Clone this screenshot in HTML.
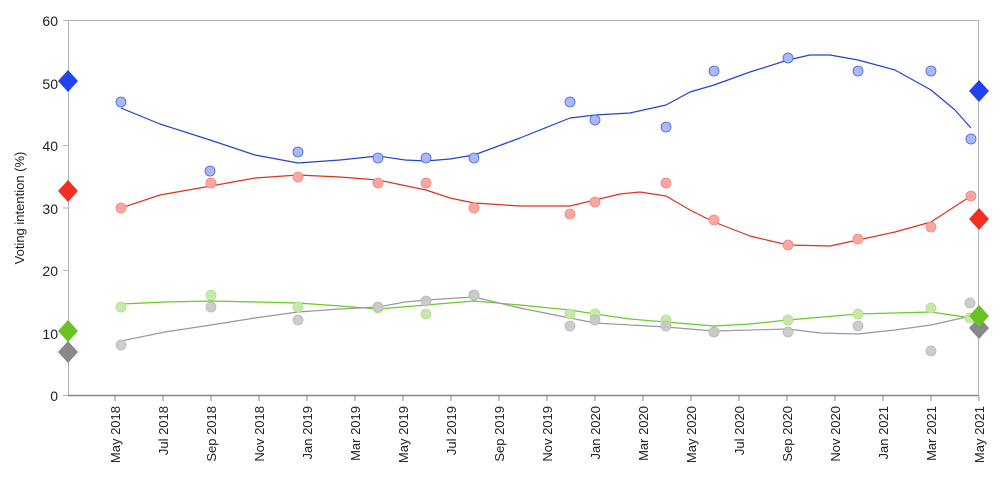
<!DOCTYPE html><html><head><style>body{margin:0;background:#fff}svg{display:block;font-family:"Liberation Sans",sans-serif}</style></head><body>
<svg width="1000" height="500" viewBox="0 0 1000 500">
<rect x="68.5" y="20.5" width="910" height="375" fill="#fff" stroke="#b3b3b3"/>
<g font-size="14" fill="#222" text-anchor="end">
<text x="58" y="26">60</text><text x="58" y="89">50</text><text x="58" y="151">40</text><text x="58" y="276" >20</text><text x="58" y="214">30</text><text x="58" y="339">10</text><text x="58" y="401">0</text></g>
<g stroke="#b3b3b3"><line x1="63" y1="20.5" x2="68" y2="20.5"/><line x1="63" y1="83" x2="68" y2="83"/><line x1="63" y1="145.5" x2="68" y2="145.5"/><line x1="63" y1="208" x2="68" y2="208"/><line x1="63" y1="270.5" x2="68" y2="270.5"/><line x1="63" y1="333" x2="68" y2="333"/><line x1="63" y1="395.5" x2="68" y2="395.5"/></g>
<text transform="translate(24,208) rotate(-90)" font-size="13" text-anchor="middle" fill="#222">Voting intention (%)</text>
<line x1="68" y1="395.5" x2="979" y2="395.5" stroke="#888" stroke-width="1.5"/>
<g stroke="#888">
<line x1="115" y1="396" x2="115" y2="401"/><line x1="163" y1="396" x2="163" y2="401"/><line x1="211" y1="396" x2="211" y2="401"/><line x1="259" y1="396" x2="259" y2="401"/><line x1="307" y1="396" x2="307" y2="401"/><line x1="355" y1="396" x2="355" y2="401"/><line x1="403" y1="396" x2="403" y2="401"/><line x1="451" y1="396" x2="451" y2="401"/><line x1="499" y1="396" x2="499" y2="401"/><line x1="547" y1="396" x2="547" y2="401"/><line x1="595" y1="396" x2="595" y2="401"/><line x1="643" y1="396" x2="643" y2="401"/><line x1="691" y1="396" x2="691" y2="401"/><line x1="739" y1="396" x2="739" y2="401"/><line x1="787" y1="396" x2="787" y2="401"/><line x1="835" y1="396" x2="835" y2="401"/><line x1="883" y1="396" x2="883" y2="401"/><line x1="931" y1="396" x2="931" y2="401"/><line x1="979" y1="396" x2="979" y2="401"/>
</g>
<g font-size="13" fill="#222" text-anchor="end">
<text transform="translate(120,406) rotate(-90)">May 2018</text><text transform="translate(168,406) rotate(-90)">Jul 2018</text><text transform="translate(216,406) rotate(-90)">Sep 2018</text><text transform="translate(264,406) rotate(-90)">Nov 2018</text><text transform="translate(312,406) rotate(-90)">Jan 2019</text><text transform="translate(360,406) rotate(-90)">Mar 2019</text><text transform="translate(408,406) rotate(-90)">May 2019</text><text transform="translate(456,406) rotate(-90)">Jul 2019</text><text transform="translate(504,406) rotate(-90)">Sep 2019</text><text transform="translate(552,406) rotate(-90)">Nov 2019</text><text transform="translate(600,406) rotate(-90)">Jan 2020</text><text transform="translate(648,406) rotate(-90)">Mar 2020</text><text transform="translate(696,406) rotate(-90)">May 2020</text><text transform="translate(744,406) rotate(-90)">Jul 2020</text><text transform="translate(792,406) rotate(-90)">Sep 2020</text><text transform="translate(840,406) rotate(-90)">Nov 2020</text><text transform="translate(888,406) rotate(-90)">Jan 2021</text><text transform="translate(936,406) rotate(-90)">Mar 2021</text><text transform="translate(984,406) rotate(-90)">May 2021</text>
</g>
<g fill="none" stroke-width="1.2" stroke-linejoin="round">
<polyline stroke="#2244cc" points="121,108 160,124 210,140 255,155 298,163 340,160 378,156 405,160 426,161 450,159 474,155 520,138 570,118 595,115 630,113 666,105 690,92 714,85 750,72 788,60 810,55 830,55 858,60 895,70 931,90 955,110 971,128"/>
<polyline stroke="#e0301e" points="121,208 160,195 211,186 255,178 298,175 340,177 378,180 426,190 450,198 474,203 520,206 570,206 595,200 620,194 640,192 666,196 690,210 714,222 750,236 788,245 830,246 858,240 895,232 931,222 971,196"/>
<polyline stroke="#66cc22" points="121,304 165,302 211,301 255,302 298,303 340,306 378,309 426,305 474,301 520,305 570,310 595,314 630,319 666,322 714,326 750,324 788,320 858,314 931,312 971,318"/>
<polyline stroke="#999" points="121,341 165,332 211,325 255,318 298,312 340,309 378,307 405,302 426,300 474,297 520,308 570,318 595,323 666,327 714,331 788,329 820,333 858,334 895,330 931,325 971,316"/>
</g>
<g stroke-width="0.8">
<g fill="#aab8f5" stroke="#4a64e0"><circle cx="121" cy="102" r="5"/><circle cx="210" cy="171" r="5"/><circle cx="298" cy="152" r="5"/><circle cx="378" cy="158" r="5"/><circle cx="426" cy="158" r="5"/><circle cx="474" cy="158" r="5"/><circle cx="570" cy="102" r="5"/><circle cx="595" cy="120" r="5"/><circle cx="666" cy="127" r="5"/><circle cx="714" cy="71" r="5"/><circle cx="788" cy="58" r="5"/><circle cx="858" cy="71" r="5"/><circle cx="931" cy="71" r="5"/><circle cx="971" cy="139" r="5"/></g>
<g fill="#f8a8a0" stroke="#e88"><circle cx="121" cy="208" r="5"/><circle cx="211" cy="183" r="5"/><circle cx="298" cy="177" r="5"/><circle cx="378" cy="183" r="5"/><circle cx="426" cy="183" r="5"/><circle cx="474" cy="208" r="5"/><circle cx="570" cy="214" r="5"/><circle cx="595" cy="202" r="5"/><circle cx="666" cy="183" r="5"/><circle cx="714" cy="220" r="5"/><circle cx="788" cy="245" r="5"/><circle cx="858" cy="239" r="5"/><circle cx="931" cy="227" r="5"/><circle cx="971" cy="196" r="5"/></g>
<g fill="#c8e8a8" stroke="#b5dd90"><circle cx="121" cy="307" r="5"/><circle cx="211" cy="295" r="5"/><circle cx="298" cy="307" r="5"/><circle cx="378" cy="308" r="5"/><circle cx="426" cy="314" r="5"/><circle cx="474" cy="295" r="5"/><circle cx="570" cy="314" r="5"/><circle cx="595" cy="314" r="5"/><circle cx="666" cy="320" r="5"/><circle cx="714" cy="332" r="5"/><circle cx="788" cy="320" r="5"/><circle cx="858" cy="314" r="5"/><circle cx="931" cy="308" r="5"/><circle cx="970" cy="318" r="5"/></g>
<g fill="#c8c8c8" stroke="#bbb" fill-opacity="0.9"><circle cx="121" cy="345" r="5"/><circle cx="211" cy="307" r="5"/><circle cx="298" cy="320" r="5"/><circle cx="378" cy="307" r="5"/><circle cx="426" cy="301" r="5"/><circle cx="474" cy="295" r="5"/><circle cx="570" cy="326" r="5"/><circle cx="595" cy="320" r="5"/><circle cx="666" cy="326" r="5"/><circle cx="714" cy="332" r="5"/><circle cx="788" cy="332" r="5"/><circle cx="858" cy="326" r="5"/><circle cx="931" cy="351" r="5"/><circle cx="970" cy="303" r="5"/></g>
</g>
<g>
<path d="M68 70l10 11-10 11-10-11z" fill="#2244ee"/><path d="M979 80l10 11-10 11-10-11z" fill="#2244ee"/>
<path d="M68 180l10 11-10 11-10-11z" fill="#f03020"/><path d="M979 208l10 11-10 11-10-11z" fill="#f03020"/>
<path d="M68 341l10 11-10 11-10-11z" fill="#888"/><path d="M979 317l10 11-10 11-10-11z" fill="#888"/>
<path d="M68 320l10 11-10 11-10-11z" fill="#66c322"/><path d="M979 305l10 11-10 11-10-11z" fill="#66c322"/>
</g>
</svg></body></html>
